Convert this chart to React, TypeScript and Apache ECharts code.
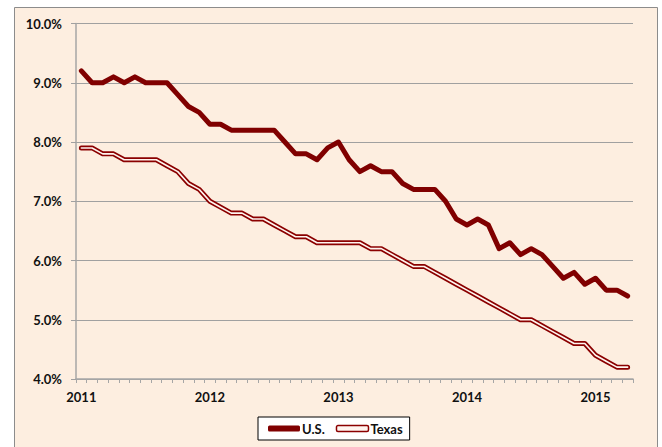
import React, { useEffect, useRef } from "react";
import * as echarts from "echarts";

const YEARS = ["2011", "2012", "2013", "2014", "2015"];
const MONTHS = ["01", "02", "03", "04", "05", "06", "07", "08", "09", "10", "11", "12"];
const MONTH_COUNT = 52; // Jan 2011 .. Apr 2015

const US = [
  9.2, 9.0, 9.0, 9.1, 9.0, 9.1, 9.0, 9.0, 9.0, 8.8, 8.6, 8.5,
  8.3, 8.3, 8.2, 8.2, 8.2, 8.2, 8.2, 8.0, 7.8, 7.8, 7.7, 7.9,
  8.0, 7.7, 7.5, 7.6, 7.5, 7.5, 7.3, 7.2, 7.2, 7.2, 7.0, 6.7,
  6.6, 6.7, 6.6, 6.2, 6.3, 6.1, 6.2, 6.1, 5.9, 5.7, 5.8, 5.6,
  5.7, 5.5, 5.5, 5.4,
];

const TEXAS = [
  7.9, 7.9, 7.8, 7.8, 7.7, 7.7, 7.7, 7.7, 7.6, 7.5, 7.3, 7.2,
  7.0, 6.9, 6.8, 6.8, 6.7, 6.7, 6.6, 6.5, 6.4, 6.4, 6.3, 6.3,
  6.3, 6.3, 6.3, 6.2, 6.2, 6.1, 6.0, 5.9, 5.9, 5.8, 5.7, 5.6,
  5.5, 5.4, 5.3, 5.2, 5.1, 5.0, 5.0, 4.9, 4.8, 4.7, 4.6, 4.6,
  4.4, 4.3, 4.2, 4.2,
];

const Y_MIN = 4;
const Y_MAX = 10;
const Y_STEP = 1;

const CATEGORIES: string[] = [];
YEARS.forEach((y) => MONTHS.forEach((m) => CATEGORIES.push(`${y}-${m}`)));
CATEGORIES.length = MONTH_COUNT;

const FONT = "Lato, 'Open Sans', sans-serif";

export default function App() {
  const ref = useRef<HTMLDivElement>(null);
  useEffect(() => {
    if (!ref.current) return;
    const chart = echarts.init(ref.current, undefined, { renderer: "svg" });
    chart.setOption({
      animation: false,
      backgroundColor: "#ffffff",
      graphic: [
        {
          type: "rect",
          z: -10,
          shape: { x: 14.5, y: 7.5, width: 643, height: 445 },
          style: { fill: "#FDEEE0", stroke: "#8c8c8c", lineWidth: 1 },
          silent: true,
        },
      ],
      grid: { left: 76, top: 23.5, right: 29, bottom: 68, containLabel: false },
      legend: {
        left: 258,
        top: 417,
        orient: "horizontal",
        backgroundColor: "#ffffff",
        borderColor: "#000000",
        borderWidth: 1,
        borderRadius: 0,
        padding: [5, 7, 5, 10],
        itemGap: 11,
        itemWidth: 32,
        itemHeight: 6,
        textStyle: { fontFamily: FONT, fontWeight: "bold", fontSize: 13, color: "#111", padding: [0, 0, 0, -3] },
        data: [
          { name: "U.S.", icon: "roundRect", itemStyle: { color: "#800000" } },
          {
            name: "Texas",
            icon: "roundRect",
            itemStyle: { color: "#fff4ef", borderColor: "#8B0000", borderWidth: 1.5 },
          },
        ],
      },
      xAxis: {
        type: "category",
        data: CATEGORIES,
        boundaryGap: true,
        axisLine: { show: true, lineStyle: { color: "#a6a6a6", width: 1.5 } },
        axisTick: { show: true, interval: 0, alignWithLabel: false, length: 4, lineStyle: { color: "#a6a6a6", width: 1 } },
        axisLabel: {
          interval: 11,
          margin: 11,
          fontFamily: FONT,
          fontWeight: "bold",
          fontSize: 13,
          color: "#111",
          formatter: (v: string) => v.slice(0, 4),
        },
        splitLine: { show: false },
      },
      yAxis: {
        type: "value",
        min: Y_MIN,
        max: Y_MAX,
        interval: Y_STEP,
        axisLine: { show: true, lineStyle: { color: "#a6a6a6", width: 1.5 } },
        axisTick: { show: true, length: 5, lineStyle: { color: "#a0a0a0", width: 1 } },
        axisLabel: {
          margin: 14,
          fontFamily: FONT,
          fontWeight: "bold",
          fontSize: 13,
          color: "#111",
          formatter: (v: number) => v.toFixed(1) + "%",
        },
        splitLine: { show: true, lineStyle: { color: "#a0a0a0", width: 1 } },
      },
      series: [
        {
          name: "U.S.",
          type: "line",
          data: US,
          showSymbol: false,
          symbol: "none",
          lineStyle: { color: "#800000", width: 5, cap: "round", join: "round" },
          itemStyle: { color: "#800000" },
          z: 3,
        },
        {
          name: "Texas",
          type: "line",
          data: TEXAS,
          showSymbol: false,
          symbol: "none",
          lineStyle: { color: "#8B0000", width: 5, cap: "round", join: "round" },
          itemStyle: { color: "#8B0000" },
          z: 2,
        },
        {
          name: "Texas",
          type: "line",
          data: TEXAS,
          showSymbol: false,
          symbol: "none",
          lineStyle: { color: "#fff4ef", width: 1.6, cap: "round", join: "round" },
          itemStyle: { color: "#fff4ef" },
          z: 2,
        },
      ],
    });
    return () => chart.dispose();
  }, []);
  return (
    <div
      ref={ref}
      style={{ position: "absolute", left: 0, top: 0, width: 662, height: 447 }}
    />
  );
}
